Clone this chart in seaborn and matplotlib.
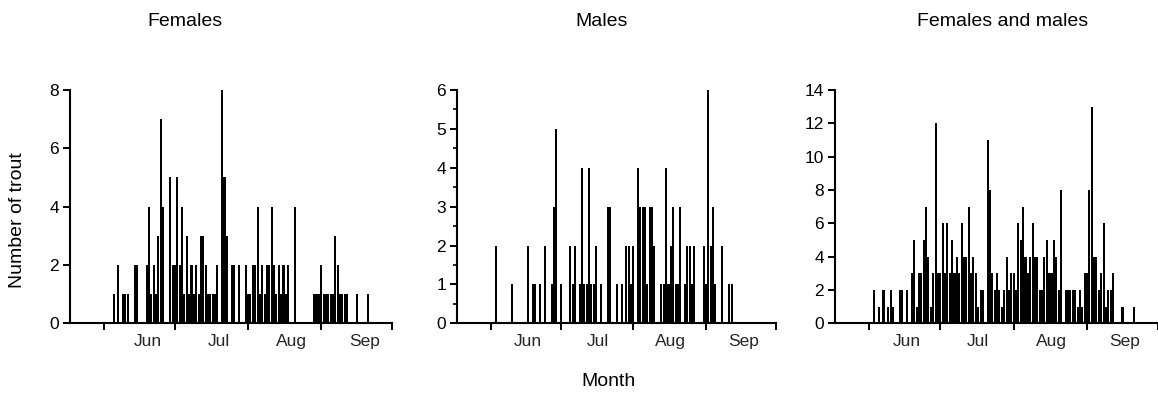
import matplotlib
matplotlib.use("Agg")
import matplotlib.pyplot as plt
import seaborn as sns
import pandas as pd
from matplotlib.ticker import FixedLocator, MultipleLocator, NullFormatter, FixedFormatter

# ---- data: day offset from 1 June, number of trout ----
female_days = [4, 6, 8, 9, 10, 13, 14, 18, 19, 20, 21, 22, 23, 24, 25, 28, 29, 30, 31, 32,
               33, 34, 35, 36, 37, 38, 39, 40, 41, 42, 43, 44, 45, 46, 47, 48, 50, 51, 52, 54,
               55, 57, 60, 61, 62, 63, 64, 65, 66, 67, 68, 69, 70, 71, 72, 73, 74, 75, 76, 77,
               78, 81, 89, 90, 91, 92, 93, 94, 95, 96, 97, 98, 99, 100, 101, 102, 103, 107, 112]
female_counts = [1, 2, 1, 1, 1, 2, 2, 2, 4, 1, 2, 1, 3, 7, 4, 5, 2, 2, 5, 2,
                 4, 1, 3, 1, 2, 1, 2, 1, 3, 3, 2, 1, 1, 1, 1, 2, 8, 5, 3, 2,
                 2, 2, 2, 1, 1, 2, 2, 4, 1, 2, 1, 2, 2, 4, 2, 1, 2, 1, 2, 1,
                 2, 4, 1, 1, 1, 2, 1, 1, 1, 1, 1, 3, 2, 1, 1, 1, 1, 1, 1]

male_days = [2, 9, 16, 18, 19, 21, 23, 26, 27, 28, 30, 34, 35, 36, 38, 39, 40, 41, 42, 43,
             44, 45, 47, 50, 51, 54, 56, 58, 59, 60, 61, 63, 64, 65, 66, 67, 68, 69, 70, 73,
             74, 75, 76, 77, 78, 79, 80, 81, 83, 84, 85, 86, 87, 91, 92, 93, 94, 95, 96, 99,
             102, 103]
male_counts = [2, 1, 2, 1, 1, 1, 2, 1, 3, 5, 1, 2, 1, 2, 1, 4, 1, 1, 4, 1,
               1, 2, 1, 3, 3, 1, 1, 2, 2, 1, 2, 4, 3, 3, 3, 1, 3, 3, 2, 1,
               1, 4, 1, 2, 3, 1, 1, 3, 1, 2, 2, 1, 2, 2, 1, 6, 2, 3, 1, 2,
               1, 1]

all_days = [2, 4, 6, 8, 9, 10, 13, 14, 16, 18, 19, 20, 21, 22, 23, 24, 25, 26, 27, 28,
            29, 30, 31, 32, 33, 34, 35, 36, 37, 38, 39, 40, 41, 42, 43, 44, 45, 46, 47, 48,
            50, 51, 52, 53, 54, 55, 56, 57, 58, 59, 60, 61, 62, 63, 64, 65, 66, 67, 68, 69,
            70, 71, 72, 73, 74, 75, 76, 77, 78, 79, 80, 81, 83, 84, 85, 86, 87, 88, 89, 90,
            91, 92, 93, 94, 95, 96, 97, 98, 99, 100, 101, 102, 103, 107, 112]
all_counts = [2, 1, 2, 1, 2, 1, 2, 2, 2, 3, 5, 1, 3, 3, 5, 7, 4, 1, 3, 12,
              3, 3, 6, 3, 6, 3, 5, 3, 4, 3, 6, 4, 4, 7, 3, 4, 3, 1, 2, 2,
              11, 8, 3, 2, 3, 2, 1, 2, 4, 2, 3, 3, 2, 6, 5, 7, 4, 3, 4, 6,
              4, 4, 2, 2, 4, 5, 3, 3, 5, 4, 2, 8, 2, 2, 2, 2, 2, 1, 2, 1,
              3, 3, 8, 13, 4, 4, 2, 3, 6, 1, 2, 2, 3, 1, 1]

month_starts = [0, 30, 61, 92, 122]
month_labels = ["Jun", "Jul", "Aug", "Sep"]
titles = ["Females", "Males", "Females and males"]
y_max = [8, 6, 14]
y_step = [2, 1, 2]

# ---- style ----
sns.set_style("ticks")
plt.rcParams["font.family"] = ["Liberation Sans", "DejaVu Sans"]

W, H = 1158, 396
fig = plt.figure(figsize=(W / 100, H / 100), dpi=100)

panels = [(female_days, female_counts), (male_days, male_counts), (all_days, all_counts)]
lefts = [70, 457, 835]
rights = [392, 776, 1158]
title_x = [185, 602, 1003]
label_shift = [18.5, 16, 16]
bottom_px, top_px = 323.3, 90

for i, (days, counts) in enumerate(panels):
    ax = fig.add_axes([lefts[i] / W, (H - bottom_px) / H,
                       (rights[i] - lefts[i]) / W, (bottom_px - top_px) / H])
    df = pd.DataFrame({"day": days, "count": counts})
    sns.barplot(data=df, x="day", y="count", native_scale=True, color="black",
                width=0.86, linewidth=0, saturation=1, errorbar=None, ax=ax,
                antialiased=False)
    ax.set_xlim(-14.5, 122)
    ax.set_ylim(0, y_max[i])
    ax.set_xlabel("")
    ax.set_ylabel("")
    ax.yaxis.set_major_locator(MultipleLocator(y_step[i]))
    if i == 1:
        ax.yaxis.set_minor_locator(MultipleLocator(0.5))
        ax.tick_params(axis="y", which="minor", length=3, width=1.2, color="black")
    ax.xaxis.set_major_locator(FixedLocator(month_starts))
    ax.xaxis.set_major_formatter(NullFormatter())
    mids = [month_starts[k] + label_shift[i] for k in range(4)]
    ax.xaxis.set_minor_locator(FixedLocator(mids))
    ax.xaxis.set_minor_formatter(FixedFormatter(month_labels))
    ax.tick_params(axis="x", which="minor", length=0, pad=8, labelsize=12.5)
    ax.tick_params(axis="both", which="major", length=5, width=1.4, color="black",
                   labelsize=12.5, labelcolor="black")
    ax.tick_params(axis="y", which="major", pad=3)
    sns.despine(ax=ax)
    for s in ["left", "bottom"]:
        ax.spines[s].set_linewidth(1.5)
        ax.spines[s].set_color("black")
    ax.set_facecolor("white")
    fig.text(title_x[i] / W, 1 - 22 / H, titles[i], ha="center", va="center",
             fontsize=14, color="black")

fig.text(18 / W, 1 - 220 / H, "Number of trout", rotation=90, ha="center", va="center",
         fontsize=14, color="black")
fig.text(608 / W, 1 - 382 / H, "Month", ha="center", va="center", fontsize=14,
         color="black")

fig.savefig("out.png", dpi=100, facecolor="white")
